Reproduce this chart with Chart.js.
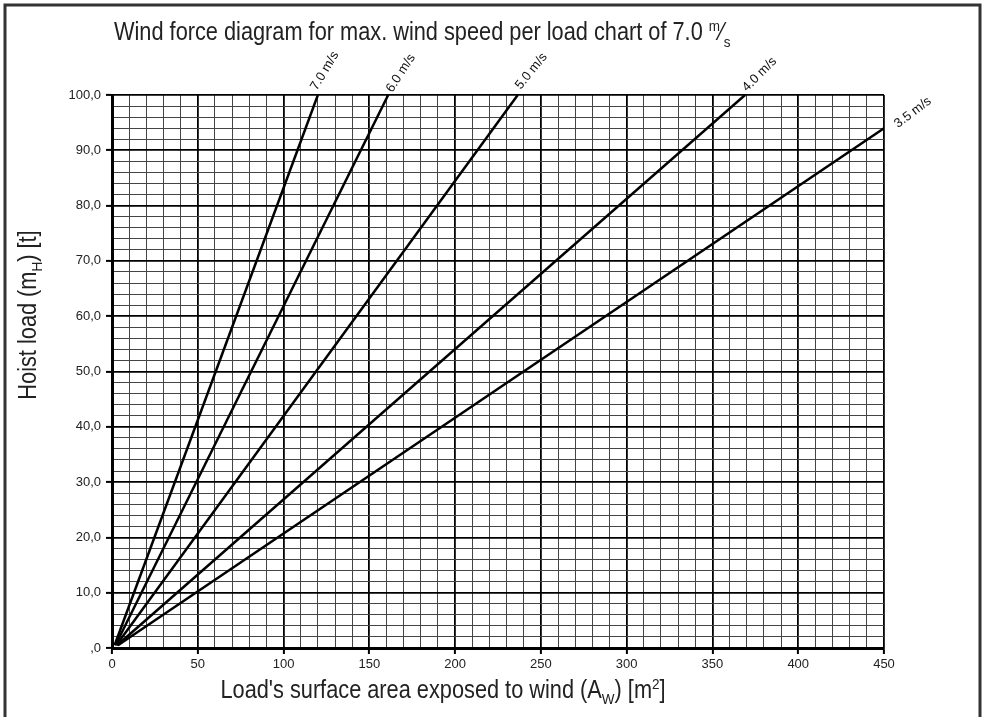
<!DOCTYPE html>
<html lang="en">
<head>
    <meta charset="UTF-8">
    <title>Wind force diagram</title>
    <script src="https://cdn.jsdelivr.net/npm/chart.js@4.4.1/dist/chart.umd.min.js"></script>
    <style>
        body { margin: 0; background: #fff; }
        #wrap { position: relative; width: 985px; height: 717px; }
    </style>
</head>
<body>
    <div id="wrap"><canvas id="windChart" width="985" height="717"></canvas></div>

    <script>
        // wind speeds of the curves [m/s]
        const speeds = ['7.0', '6.0', '5.0', '4.0', '3.5'];
        // start and end point of each curve: area [m²], load [t]
        const startArea = [1.5, 2, 2.5, 3, 3.5];
        const startLoad = [0.5, 0.5, 0.5, 0.5, 0.5];
        const endArea = [120, 161, 236.5, 369, 450];
        const endLoad = [100, 100, 100, 100, 94];

        // label styling (angle in degrees, offset from the line end in px)
        const labelAngle = [-59, -57, -51, -45, -37];
        const labelOffset = [[-1, -4], [4, -2], [3, -5], [2, -3], [14, 0]];

        const sans = '"Liberation Sans", Arial, sans-serif';
        const SQUEEZE = 0.87;   // fake a narrow face, no narrow font installed

        // draws text made of runs (normal, sup, sub), horizontally condensed
        function drawRuns(ctx, runs, x, y, size) {
            ctx.save();
            ctx.translate(x, y);
            ctx.scale(SQUEEZE, 1);
            let cx = 0;
            runs.forEach(r => {
                ctx.font = (r.small ? size * 0.62 : size) + 'px ' + sans;
                ctx.fillText(r.t, cx, r.dy || 0);
                cx += ctx.measureText(r.t).width;
            });
            ctx.restore();
        }
        function runsWidth(ctx, runs, size) {
            let w = 0;
            runs.forEach(r => {
                ctx.font = (r.small ? size * 0.62 : size) + 'px ' + sans;
                w += ctx.measureText(r.t).width;
            });
            return w * SQUEEZE;
        }

        const extras = {
            id: 'extras',
            afterDraw(chart) {
                const ctx = chart.ctx;
                const xs = chart.scales.x, ys = chart.scales.y;
                ctx.save();
                ctx.fillStyle = '#222';
                ctx.textBaseline = 'alphabetic';
                ctx.textAlign = 'left';

                // title
                drawRuns(ctx, [
                    { t: 'Wind force diagram for max. wind speed per load chart of 7.0 ' },
                    { t: 'm', small: true, dy: -9 },
                    { t: '⁄' },
                    { t: 's', small: true, dy: 7 }
                ], 114, 40, 25);

                // x axis title
                const xr = [
                    { t: "Load's surface area exposed to wind (A" },
                    { t: 'W', small: true, dy: 6 },
                    { t: ') [m' },
                    { t: '2', small: true, dy: -9 },
                    { t: ']' }
                ];
                drawRuns(ctx, xr, 443 - runsWidth(ctx, xr, 25) / 2, 698, 25);

                // y axis title
                const yr = [
                    { t: 'Hoist load (m' },
                    { t: 'H', small: true, dy: 6 },
                    { t: ') [t]' }
                ];
                ctx.save();
                ctx.translate(36, 315);
                ctx.rotate(-Math.PI / 2);
                drawRuns(ctx, yr, -runsWidth(ctx, yr, 25) / 2, 0, 25);
                ctx.restore();

                // curve labels
                ctx.font = '13px ' + sans;
                ctx.fillStyle = '#111';
                speeds.forEach((s, i) => {
                    const px = xs.getPixelForValue(endArea[i]) + labelOffset[i][0];
                    const py = ys.getPixelForValue(endLoad[i]) + labelOffset[i][1];
                    ctx.save();
                    ctx.translate(px, py);
                    ctx.rotate(labelAngle[i] * Math.PI / 180);
                    ctx.fillText(s + ' m/s', 0, 0);
                    ctx.restore();
                });

                // outer frame
                ctx.strokeStyle = '#333';
                ctx.lineWidth = 3;
                ctx.strokeRect(5, 5, 975, 800);
                ctx.restore();
            }
        };

        new Chart(document.getElementById('windChart'), {
            type: 'line',
            data: { datasets: speeds.map((s, i) => ({
                label: s + ' m/s',
                data: [{ x: startArea[i], y: startLoad[i] }, { x: endArea[i], y: endLoad[i] }],
                borderColor: '#000',
                borderWidth: 2.5,
                pointRadius: 0,
                fill: false
            })) },
            plugins: [extras],
            options: {
                responsive: false,
                animation: false,
                layout: { padding: { left: 0, right: 101, top: 95, bottom: 0 } },
                plugins: { legend: { display: false }, tooltip: { enabled: false } },
                scales: {
                    x: {
                        type: 'linear',
                        min: 0, max: 450,
                        afterFit(scale) { scale.height = 69; },
                        ticks: {
                            stepSize: 10,
                            autoSkip: false,
                            maxRotation: 0,
                            color: '#222',
                            font: { family: sans, size: 13 },
                            padding: 3,
                            callback: v => v % 50 === 0 ? String(v) : ''
                        },
                        grid: {
                            color: c => c.tick && c.tick.value % 50 === 0 ? '#000' : '#444',
                            lineWidth: c => c.tick && c.tick.value % 50 === 0 ? 1.8 : 1,
                            tickColor: c => c.tick && c.tick.value % 50 === 0 ? '#000' : 'rgba(0,0,0,0)',
                            tickLength: 6,
                            tickWidth: 2
                        },
                        border: { color: '#000', width: 3 }
                    },
                    y: {
                        min: 0, max: 100,
                        afterFit(scale) { scale.width = 112; },
                        ticks: {
                            stepSize: 2,
                            autoSkip: false,
                            color: '#222',
                            font: { family: sans, size: 13 },
                            padding: 5,
                            callback: v => v % 10 === 0 ? (v === 0 ? ',0' : v.toFixed(1).replace('.', ',')) : ''
                        },
                        grid: {
                            color: c => c.tick && c.tick.value % 10 === 0 ? '#000' : '#444',
                            lineWidth: c => c.tick && c.tick.value % 10 === 0 ? 1.8 : 1,
                            tickColor: c => c.tick && c.tick.value % 10 === 0 ? '#000' : 'rgba(0,0,0,0)',
                            tickLength: 6,
                            tickWidth: 2
                        },
                        border: { color: '#000', width: 3 }
                    }
                }
            }
        });
    </script>
</body>
</html>
